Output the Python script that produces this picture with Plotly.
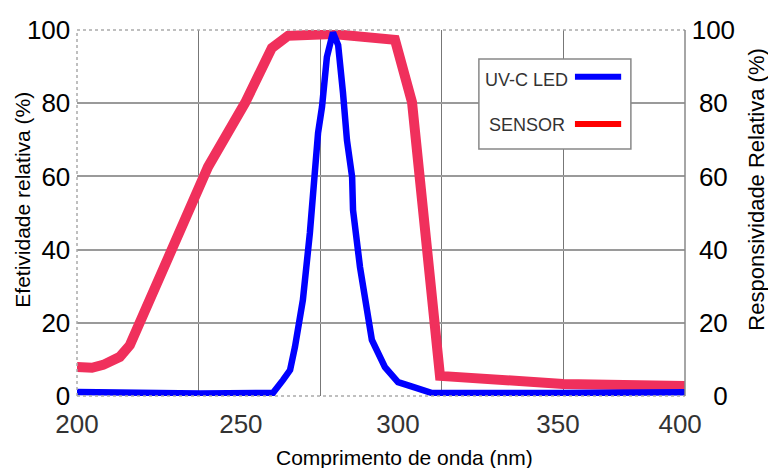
import plotly.graph_objects as go

# ---- data ----
sensor_x = [200.0, 204.9, 208.6, 214.1, 217.4, 243.1, 255.3, 264.1, 269.4, 284.2,
            304.6, 310.2, 319.4, 339.1, 359.9, 400.0]
sensor_y = [7.9, 7.7, 8.5, 10.7, 13.9, 62.6, 80.1, 95.1, 98.4, 98.9,
            97.3, 80.3, 5.5, 4.1, 3.3, 2.7]

led_x = [200.0, 224.0, 240.5, 260.2, 264.5, 267.8, 270.1, 271.7, 274.3, 276.6,
         278.3, 279.3, 280.6, 282.2, 284.2, 285.9, 287.5, 288.8, 290.5, 290.8,
         293.1, 297.0, 301.3, 305.6, 310.5, 316.8, 358.9, 400.0]
led_y = [1.1, 0.8, 0.7, 0.8, 0.9, 4.4, 7.1, 13.4, 26.2, 44.5,
         60.9, 71.9, 79.0, 92.6, 99.3, 95.9, 82.8, 69.9, 59.8, 50.8,
         35.2, 15.3, 7.9, 3.8, 2.5, 0.8, 0.8, 1.0]

x_tick_labels = ["200", "250", "300", "350", "400"]
x_tick_vals = [200, 253.9, 305.6, 358.2, 398.4]
x_grid_vals = [240, 280, 320, 360]
y_tick_vals = [0, 20, 40, 60, 80, 100]
y_tick_labels = ["0", "20", "40", "60", "80", "100"]
y2_tick_labels = ["\u00a0\u00a0\u00a00", "\u00a020", "\u00a040", "\u00a060", "\u00a080", "100"]

legend_names = ["UV-C LED", "SENSOR"]
legend_colors = ["#0000FF", "#FF0000"]

FONT = "Liberation Sans, Arial, sans-serif"

fig = go.Figure()
fig.add_trace(go.Scatter(x=sensor_x, y=sensor_y, mode="lines", name="SENSOR",
                         line=dict(color="#F0305C", width=10), showlegend=False))
fig.add_trace(go.Scatter(x=led_x, y=led_y, mode="lines", name="UV-C LED",
                         line=dict(color="#0000FF", width=6.5), showlegend=False))
# invisible trace to activate right axis
fig.add_trace(go.Scatter(x=[200], y=[0], yaxis="y2", mode="markers",
                         marker=dict(opacity=0), showlegend=False, hoverinfo="skip"))

fig.update_layout(
    width=768, height=468,
    margin=dict(l=77, r=83, t=30, b=72),
    paper_bgcolor="white", plot_bgcolor="white",
    font=dict(family=FONT, color="black"),
    xaxis=dict(range=[200, 400], tickmode="array", tickvals=x_tick_vals,
               ticktext=x_tick_labels, showgrid=False, zeroline=False,
               ticks="outside", ticklen=5, tickcolor="rgba(0,0,0,0)",
               tickfont=dict(size=26, color="#333333"),
               minor=dict(tickmode="array", tickvals=x_grid_vals, showgrid=True,
                          gridcolor="#777777", gridwidth=1, ticks=""),
               showline=False),
    yaxis=dict(range=[0, 100], tickmode="array", tickvals=y_tick_vals,
               ticktext=y_tick_labels, showgrid=True, gridcolor="#9a9a9a",
               gridwidth=1.5, zeroline=False, ticks="outside", ticklen=0.5,
               tickcolor="rgba(0,0,0,0)", tickfont=dict(size=26, color="black")),
    yaxis2=dict(range=[0, 100], overlaying="y", side="right", tickmode="array",
                tickvals=y_tick_vals, ticktext=y2_tick_labels, showgrid=False,
                zeroline=False, ticks="outside", ticklen=0.5,
                tickcolor="rgba(0,0,0,0)", tickfont=dict(size=26, color="black")),
)

shapes = [
    dict(type="line", xref="paper", yref="paper", x0=0, x1=1, y0=1, y1=1,
         line=dict(color="#aaaaaa", width=1.5, dash="dot")),
    dict(type="line", xref="paper", yref="paper", x0=0, x1=1, y0=0, y1=0,
         line=dict(color="#aaaaaa", width=1.5, dash="dot")),
    dict(type="line", xref="paper", yref="paper", x0=0, x1=0, y0=0, y1=1,
         line=dict(color="#aaaaaa", width=1.5, dash="dot")),
    dict(type="line", xref="paper", yref="paper", x0=1, x1=1, y0=0, y1=1,
         line=dict(color="#888888", width=1.5)),
    # legend box
    dict(type="rect", xref="paper", yref="paper", x0=0.661, x1=0.911, y0=0.675, y1=0.921,
         line=dict(color="#888888", width=1.5), fillcolor="white", layer="above"),
]
legend_line_y = [0.872, 0.743]
legend_text_y = [0.863, 0.740]
legend_text_x = [0.811, 0.806]
annotations = []
for name, col, ly, ty, tx in zip(legend_names, legend_colors, legend_line_y,
                                 legend_text_y, legend_text_x):
    shapes.append(dict(type="line", xref="paper", yref="paper", x0=0.819, x1=0.895,
                       y0=ly, y1=ly, line=dict(color=col, width=6), layer="above"))
    annotations.append(dict(text=name, xref="paper", yref="paper", x=tx, y=ty,
                            xanchor="right", yanchor="middle", showarrow=False,
                            font=dict(size=18, color="#333333", family=FONT)))

annotations += [
    dict(text="Comprimento de onda (nm)", xref="paper", yref="paper", x=0.538, y=-0.167,
         xanchor="center", yanchor="middle", showarrow=False,
         font=dict(size=21, color="black", family=FONT)),
    dict(text="Efetividade relativa (%)", xref="paper", yref="paper", x=-0.089, y=0.536,
         xanchor="center", yanchor="middle", showarrow=False, textangle=-90,
         font=dict(size=21, color="black", family=FONT)),
    dict(text="Responsividade Relativa (%)", xref="paper", yref="paper", x=1.118, y=0.563,
         xanchor="center", yanchor="middle", showarrow=False, textangle=-90,
         font=dict(size=22, color="black", family=FONT)),
]
fig.update_layout(shapes=shapes, annotations=annotations)

fig.write_html("out.html")
